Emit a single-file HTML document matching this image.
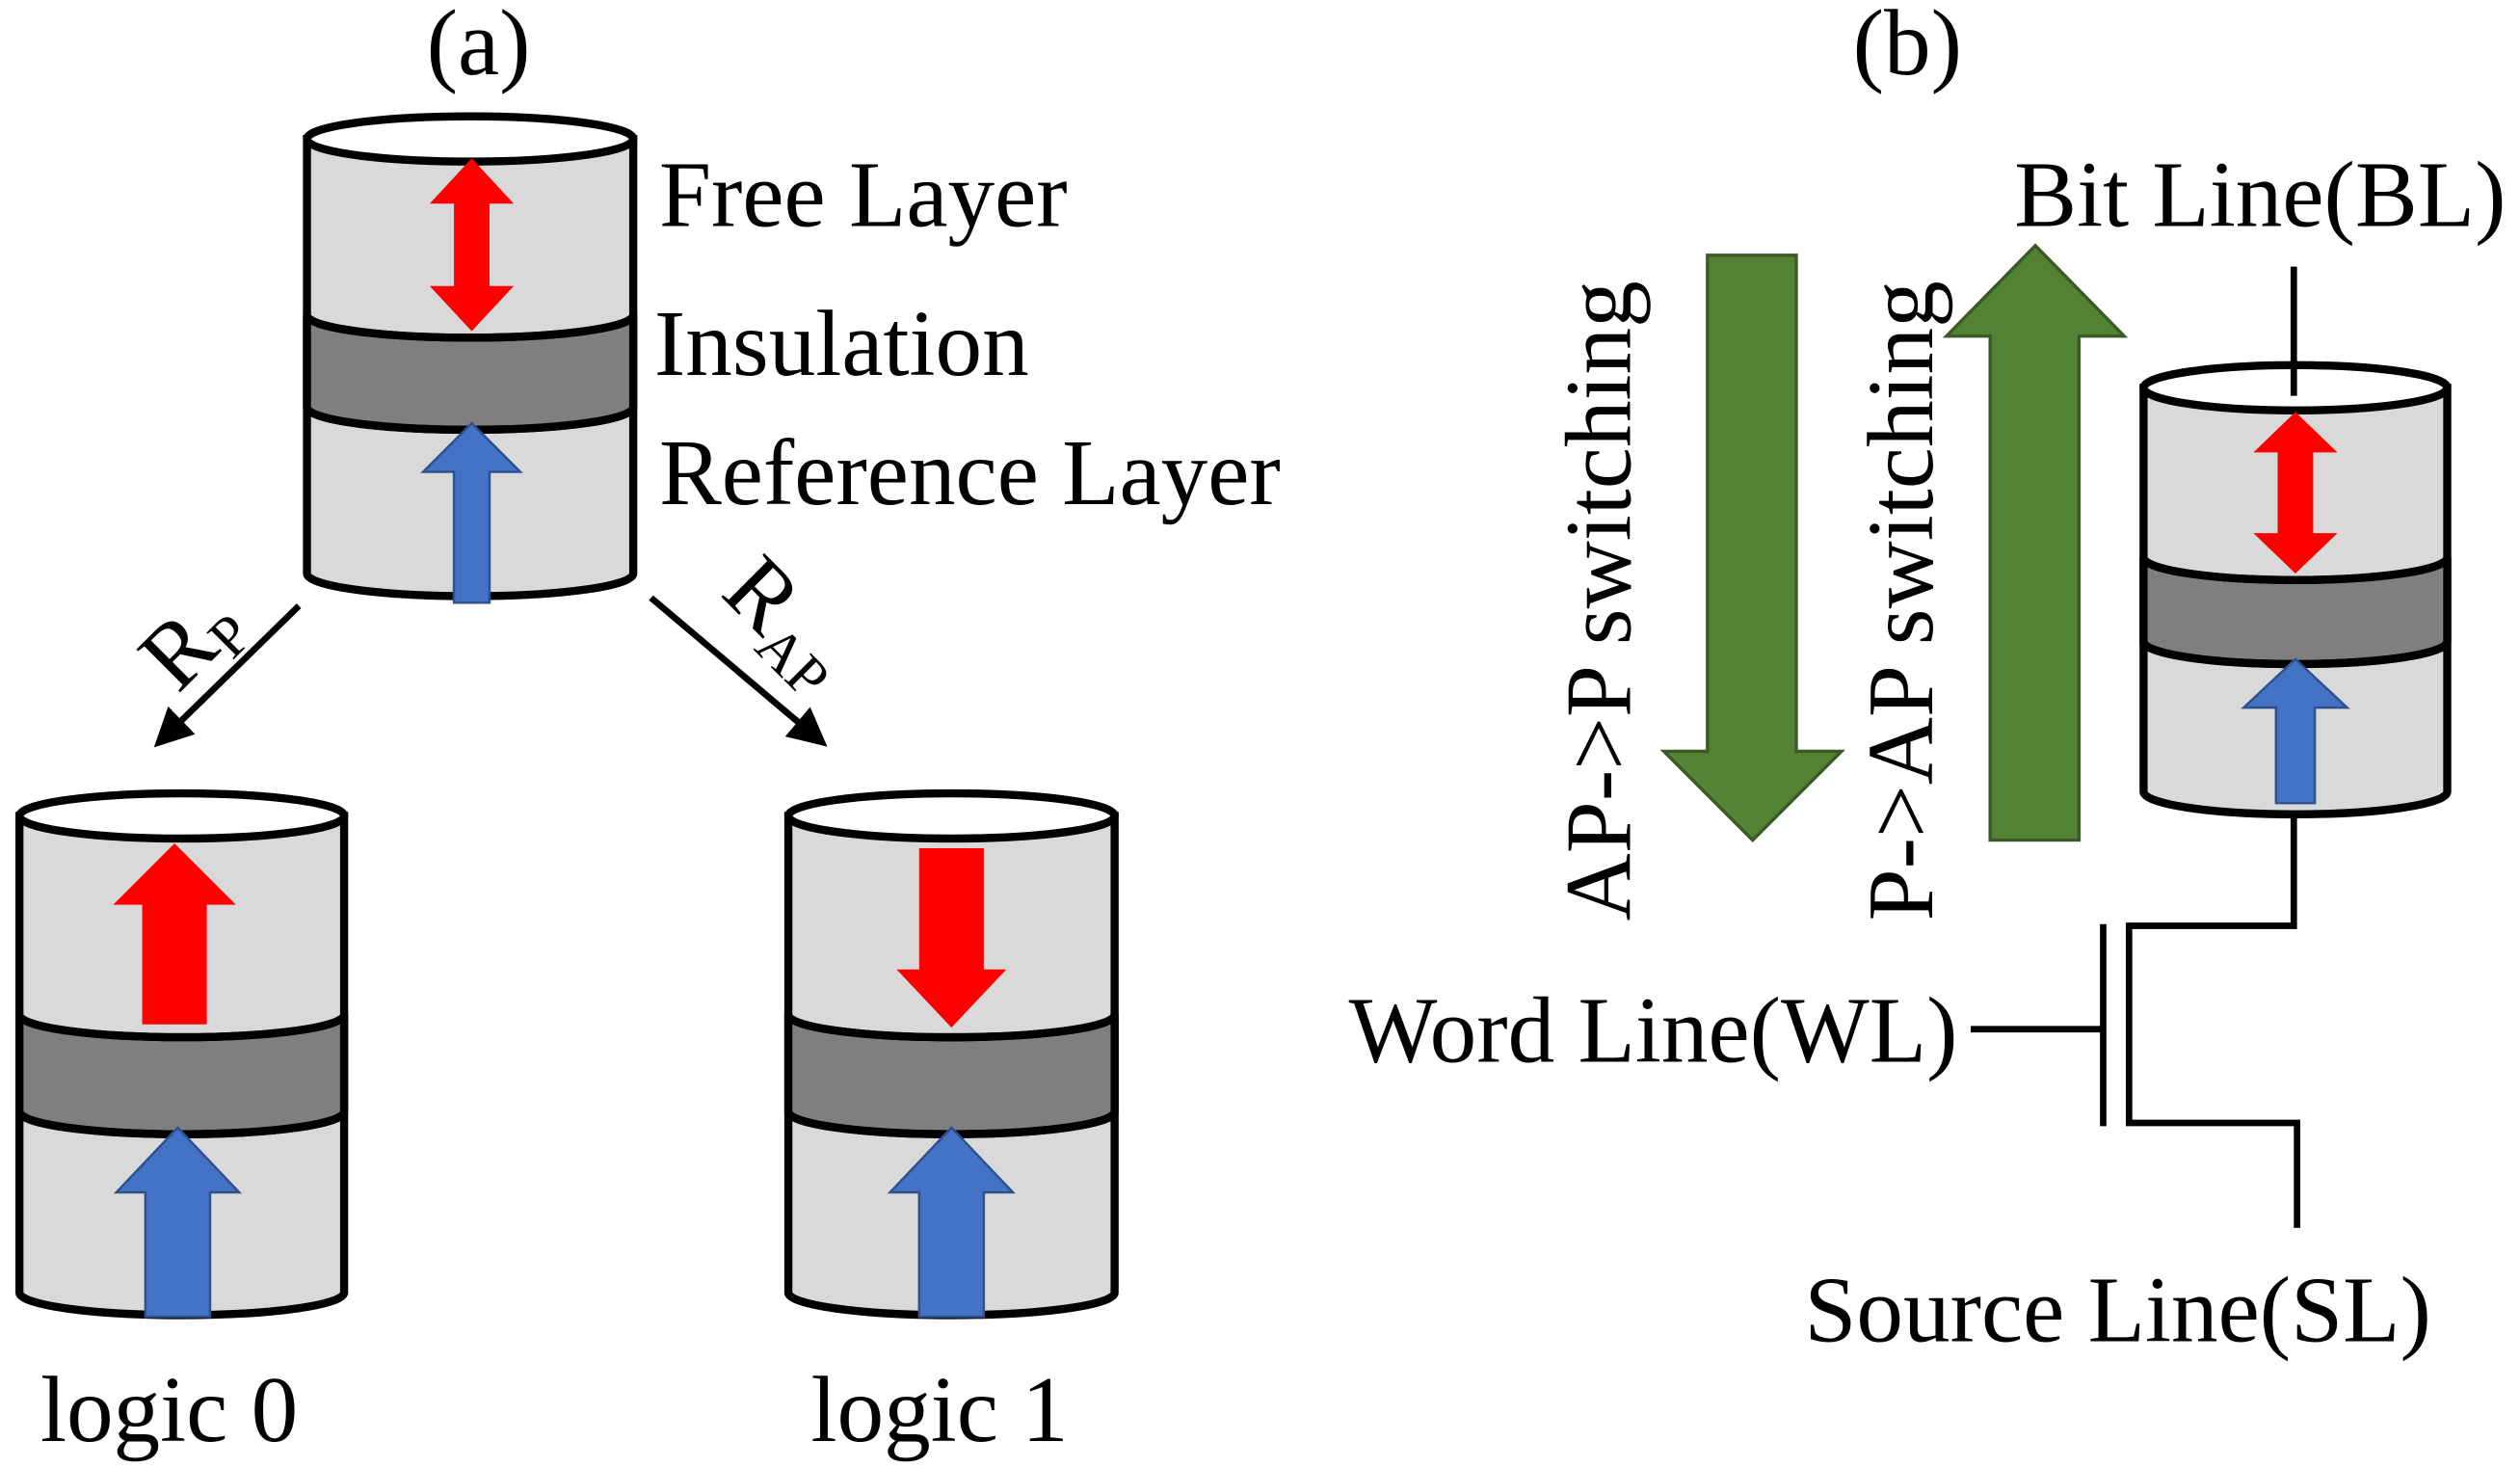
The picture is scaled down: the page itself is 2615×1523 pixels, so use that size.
<!DOCTYPE html>
<html><head><meta charset="utf-8"><style>html,body{margin:0;padding:0;background:#fff}svg{display:block}text{font-family:"Liberation Serif",serif;fill:#000}</style></head><body>
<svg width="2615" height="1523" viewBox="0 0 1560 908.6" xmlns="http://www.w3.org/2000/svg">
<defs>
<marker id="ah" markerWidth="6" markerHeight="6" refX="4" refY="3" orient="auto" markerUnits="strokeWidth"><path d="M0,0 L6,3 L0,6 Z" fill="#000"/></marker>
</defs>
<g stroke="#000" stroke-width="5">
<path d="M190,86 L190,355 A101,14 0 0 0 392,355 L392,86 Z" fill="#d9d9d9"/>
<path d="M190,195 A101,14 0 0 0 392,195 L392,252 A101,14 0 0 1 190,252 Z" fill="#7f7f7f"/>
<path d="M190,195 A101,14 0 0 0 392,195 M190,252 A101,14 0 0 0 392,252" fill="none"/>
<ellipse cx="291" cy="86" rx="101" ry="14" fill="#fff"/>
<path d="M12,505 L12,800 A100.5,14 0 0 0 213,800 L213,505 Z" fill="#d9d9d9"/>
<path d="M12,628 A100.5,14 0 0 0 213,628 L213,688 A100.5,14 0 0 1 12,688 Z" fill="#7f7f7f"/>
<path d="M12,628 A100.5,14 0 0 0 213,628 M12,688 A100.5,14 0 0 0 213,688" fill="none"/>
<ellipse cx="112.5" cy="505" rx="100.5" ry="14" fill="#fff"/>
<path d="M488,505 L488,800 A101,14 0 0 0 690,800 L690,505 Z" fill="#d9d9d9"/>
<path d="M488,628 A101,14 0 0 0 690,628 L690,688 A101,14 0 0 1 488,688 Z" fill="#7f7f7f"/>
<path d="M488,628 A101,14 0 0 0 690,628 M488,688 A101,14 0 0 0 690,688" fill="none"/>
<ellipse cx="589" cy="505" rx="101" ry="14" fill="#fff"/>
<path d="M1327,240 L1327,490 A94,14 0 0 0 1515,490 L1515,240 Z" fill="#d9d9d9"/>
<path d="M1327,345 A94,14 0 0 0 1515,345 L1515,397 A94,14 0 0 1 1327,397 Z" fill="#7f7f7f"/>
<path d="M1327,345 A94,14 0 0 0 1515,345 M1327,397 A94,14 0 0 0 1515,397" fill="none"/>
<ellipse cx="1421" cy="240" rx="94" ry="14" fill="#fff"/>
</g>
<g stroke="none">
<path d="M292,98 L318,126 L303,126 L303,177 L318,177 L292,205 L266,177 L281,177 L281,126 L266,126 Z" fill="#ff0000"/>
<path d="M292,262 L322,292 L303,292 L303,373 L281,373 L281,292 L262,292 Z" fill="#4472c4" stroke="#2f528f" stroke-width="1.5"/>
<path d="M108,522 L146,560 L128,560 L128,634 L88,634 L88,560 L70,560 Z" fill="#ff0000"/>
<path d="M110,698 L148,738 L130,738 L130,815 L90,815 L90,738 L72,738 Z" fill="#4472c4" stroke="#2f528f" stroke-width="1.5"/>
<path d="M589,636 L623,600 L609,600 L609,525 L569,525 L569,600 L555,600 Z" fill="#ff0000"/>
<path d="M589,698 L627,738 L609,738 L609,815 L569,815 L569,738 L551,738 Z" fill="#4472c4" stroke="#2f528f" stroke-width="1.5"/>
<path d="M1421,255 L1447,280 L1432,280 L1432,330 L1447,330 L1421,355 L1395,330 L1410,330 L1410,280 L1395,280 Z" fill="#ff0000"/>
<path d="M1421,408 L1453,438 L1433,438 L1433,497 L1409,497 L1409,438 L1389,438 Z" fill="#4472c4" stroke="#2f528f" stroke-width="1.5"/>
<path d="M1057,158 L1112,158 L1112,465 L1140,465 L1085,520 L1030,465 L1057,465 Z" fill="#548235" stroke="#3a5a24" stroke-width="2"/>
<path d="M1232,520 L1287,520 L1287,208 L1315,208 L1260,152 L1205,208 L1232,208 Z" fill="#548235" stroke="#3a5a24" stroke-width="2"/>
</g>
<g stroke="#000" stroke-width="4" fill="none">
<line x1="185" y1="375" x2="101" y2="457" marker-end="url(#ah)"/>
<line x1="403" y1="370" x2="506" y2="457" marker-end="url(#ah)"/>
<line x1="1420" y1="165" x2="1420" y2="245"/>
<path d="M1420,505 L1420,573 L1318,573 L1318,695 L1422,695 L1422,760"/>
<line x1="1302" y1="572" x2="1302" y2="697"/>
<line x1="1220" y1="637" x2="1302" y2="637"/>
</g>
<g font-size="58">
<text x="264" y="46">(a)</text>
<text x="1147" y="46">(b)</text>
<text x="408" y="140">Free Layer</text>
<text x="405" y="232">Insulation</text>
<text x="408" y="312">Reference Layer</text>
<text x="25" y="892">logic 0</text>
<text x="502" y="892">logic 1</text>
<text x="1247" y="140">Bit Line(BL)</text>
<text x="835" y="657">Word Line(WL)</text>
<text x="1117" y="830">Source Line(SL)</text>
<text transform="translate(1009,570) rotate(-90)">AP-&gt;P switching</text>
<text transform="translate(1196,570) rotate(-90)">P-&gt;AP switching</text>
<text transform="translate(110,430) rotate(-45)">R<tspan font-size="36" dy="9">P</tspan></text>
<text transform="translate(445,368) rotate(45)">R<tspan font-size="36" dy="9">AP</tspan></text>
</g>
</svg>
</body></html>
